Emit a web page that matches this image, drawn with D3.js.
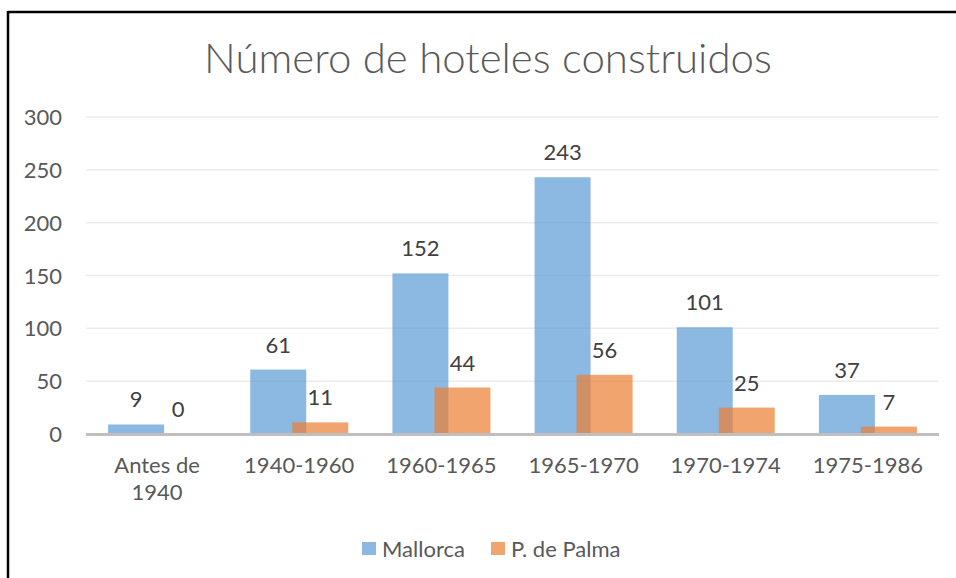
<!DOCTYPE html>
<meta charset="utf-8">
<script src="https://d3js.org/d3.v7.min.js"></script>
<style>
  body { margin: 0; background: #fff; }
  text { font-family: Lato, "Open Sans", sans-serif; }
</style>
<div id="chart"></div>
<script>
// data
var categories = ["Antes de 1940", "1940-1960", "1960-1965", "1965-1970", "1970-1974", "1975-1986"];
var mallorca = [9, 61, 152, 243, 101, 37];
var palma = [0, 11, 44, 56, 25, 7];
var seriesNames = ["Mallorca", "P. de Palma"];
var yTicks = [0, 50, 100, 150, 200, 250, 300];

var W = 956, H = 578;
var margin = {top: 117, right: 17, bottom: 144, left: 86};
var width = W - margin.left - margin.right,
    height = H - margin.top - margin.bottom;

var colors = ["#5B9BD5", "#ED7D31"];
var fs = "22px";

var svg = d3.select("#chart").append("svg")
    .attr("width", W).attr("height", H);

// frame: only left and top edges visible
svg.append("line").attr("x1", 8).attr("x2", W).attr("y1", 12).attr("y2", 12)
    .attr("stroke", "#000").attr("stroke-width", 2.5);
svg.append("line").attr("x1", 8).attr("x2", 8).attr("y1", 11).attr("y2", H)
    .attr("stroke", "#000").attr("stroke-width", 2.5);

svg.append("text")
    .attr("x", 488).attr("y", 73)
    .attr("text-anchor", "middle")
    .style("font-size", "42px").style("font-weight", 300)
    .style("fill", "#595959")
    .text("Número de hoteles construidos");

var g = svg.append("g")
    .attr("transform", "translate(" + margin.left + "," + margin.top + ")");

var x = d3.scaleBand().domain(categories).range([0, width]);
var y = d3.scaleLinear().domain([0, 300]).range([height, 0]);

// gridlines
g.selectAll(".grid").data(yTicks.slice(1)).enter().append("line")
    .attr("x1", 0).attr("x2", width)
    .attr("y1", function(d) { return y(d); })
    .attr("y2", function(d) { return y(d); })
    .attr("stroke", "#ececec").attr("stroke-width", 1.5);

// y tick labels
g.selectAll(".ytick").data(yTicks).enter().append("text")
    .attr("x", -24)
    .attr("y", function(d) { return y(d) + 8; })
    .attr("text-anchor", "end")
    .style("font-size", fs).style("fill", "#595959")
    .text(function(d) { return d; });

// bars: width 56, overlapping by 14
var bw = x.bandwidth() * 0.394;
var shift = bw * 0.75;
var series = [mallorca, palma];

series.forEach(function(vals, s) {
  var off = x.bandwidth() / 2 - (bw + shift) / 2 + s * shift;
  g.selectAll(".bar" + s).data(vals).enter().append("rect")
      .attr("x", function(d, i) { return x(categories[i]) + off; })
      .attr("y", function(d) { return y(d); })
      .attr("width", bw)
      .attr("height", function(d) { return height - y(d); })
      .attr("fill", colors[s]).attr("fill-opacity", 0.7);

  g.selectAll(".lab" + s).data(vals).enter().append("text")
      .attr("x", function(d, i) { return x(categories[i]) + off + bw / 2; })
      .attr("y", function(d) { return y(d) - 17; })
      .attr("text-anchor", "middle")
      .style("font-size", fs).style("fill", "#404040")
      .text(function(d) { return d; });
});

// x axis line
g.append("line")
    .attr("x1", 0).attr("x2", width)
    .attr("y1", height + 0.5).attr("y2", height + 0.5)
    .attr("stroke", "#bfbfbf").attr("stroke-width", 3);

// category labels, wrapped like the original
var catLines = {"Antes de 1940": ["Antes de", "1940"]};
categories.forEach(function(c) {
  var lines = catLines[c] || [c];
  var t = g.append("text")
      .attr("text-anchor", "middle")
      .style("font-size", fs).style("fill", "#595959");
  lines.forEach(function(l, k) {
    t.append("tspan")
        .attr("x", x(c) + x.bandwidth() / 2)
        .attr("y", height + 39 + k * 27)
        .text(l);
  });
});

// legend
var legend = svg.append("g");
var legendX = [362, 491];
seriesNames.forEach(function(n, s) {
  legend.append("rect")
      .attr("x", legendX[s]).attr("y", 542)
      .attr("width", 14).attr("height", 13)
      .attr("fill", colors[s]).attr("fill-opacity", 0.7);
  legend.append("text")
      .attr("x", legendX[s] + 20).attr("y", 557)
      .style("font-size", fs).style("fill", "#595959")
      .text(n);
});
</script>
